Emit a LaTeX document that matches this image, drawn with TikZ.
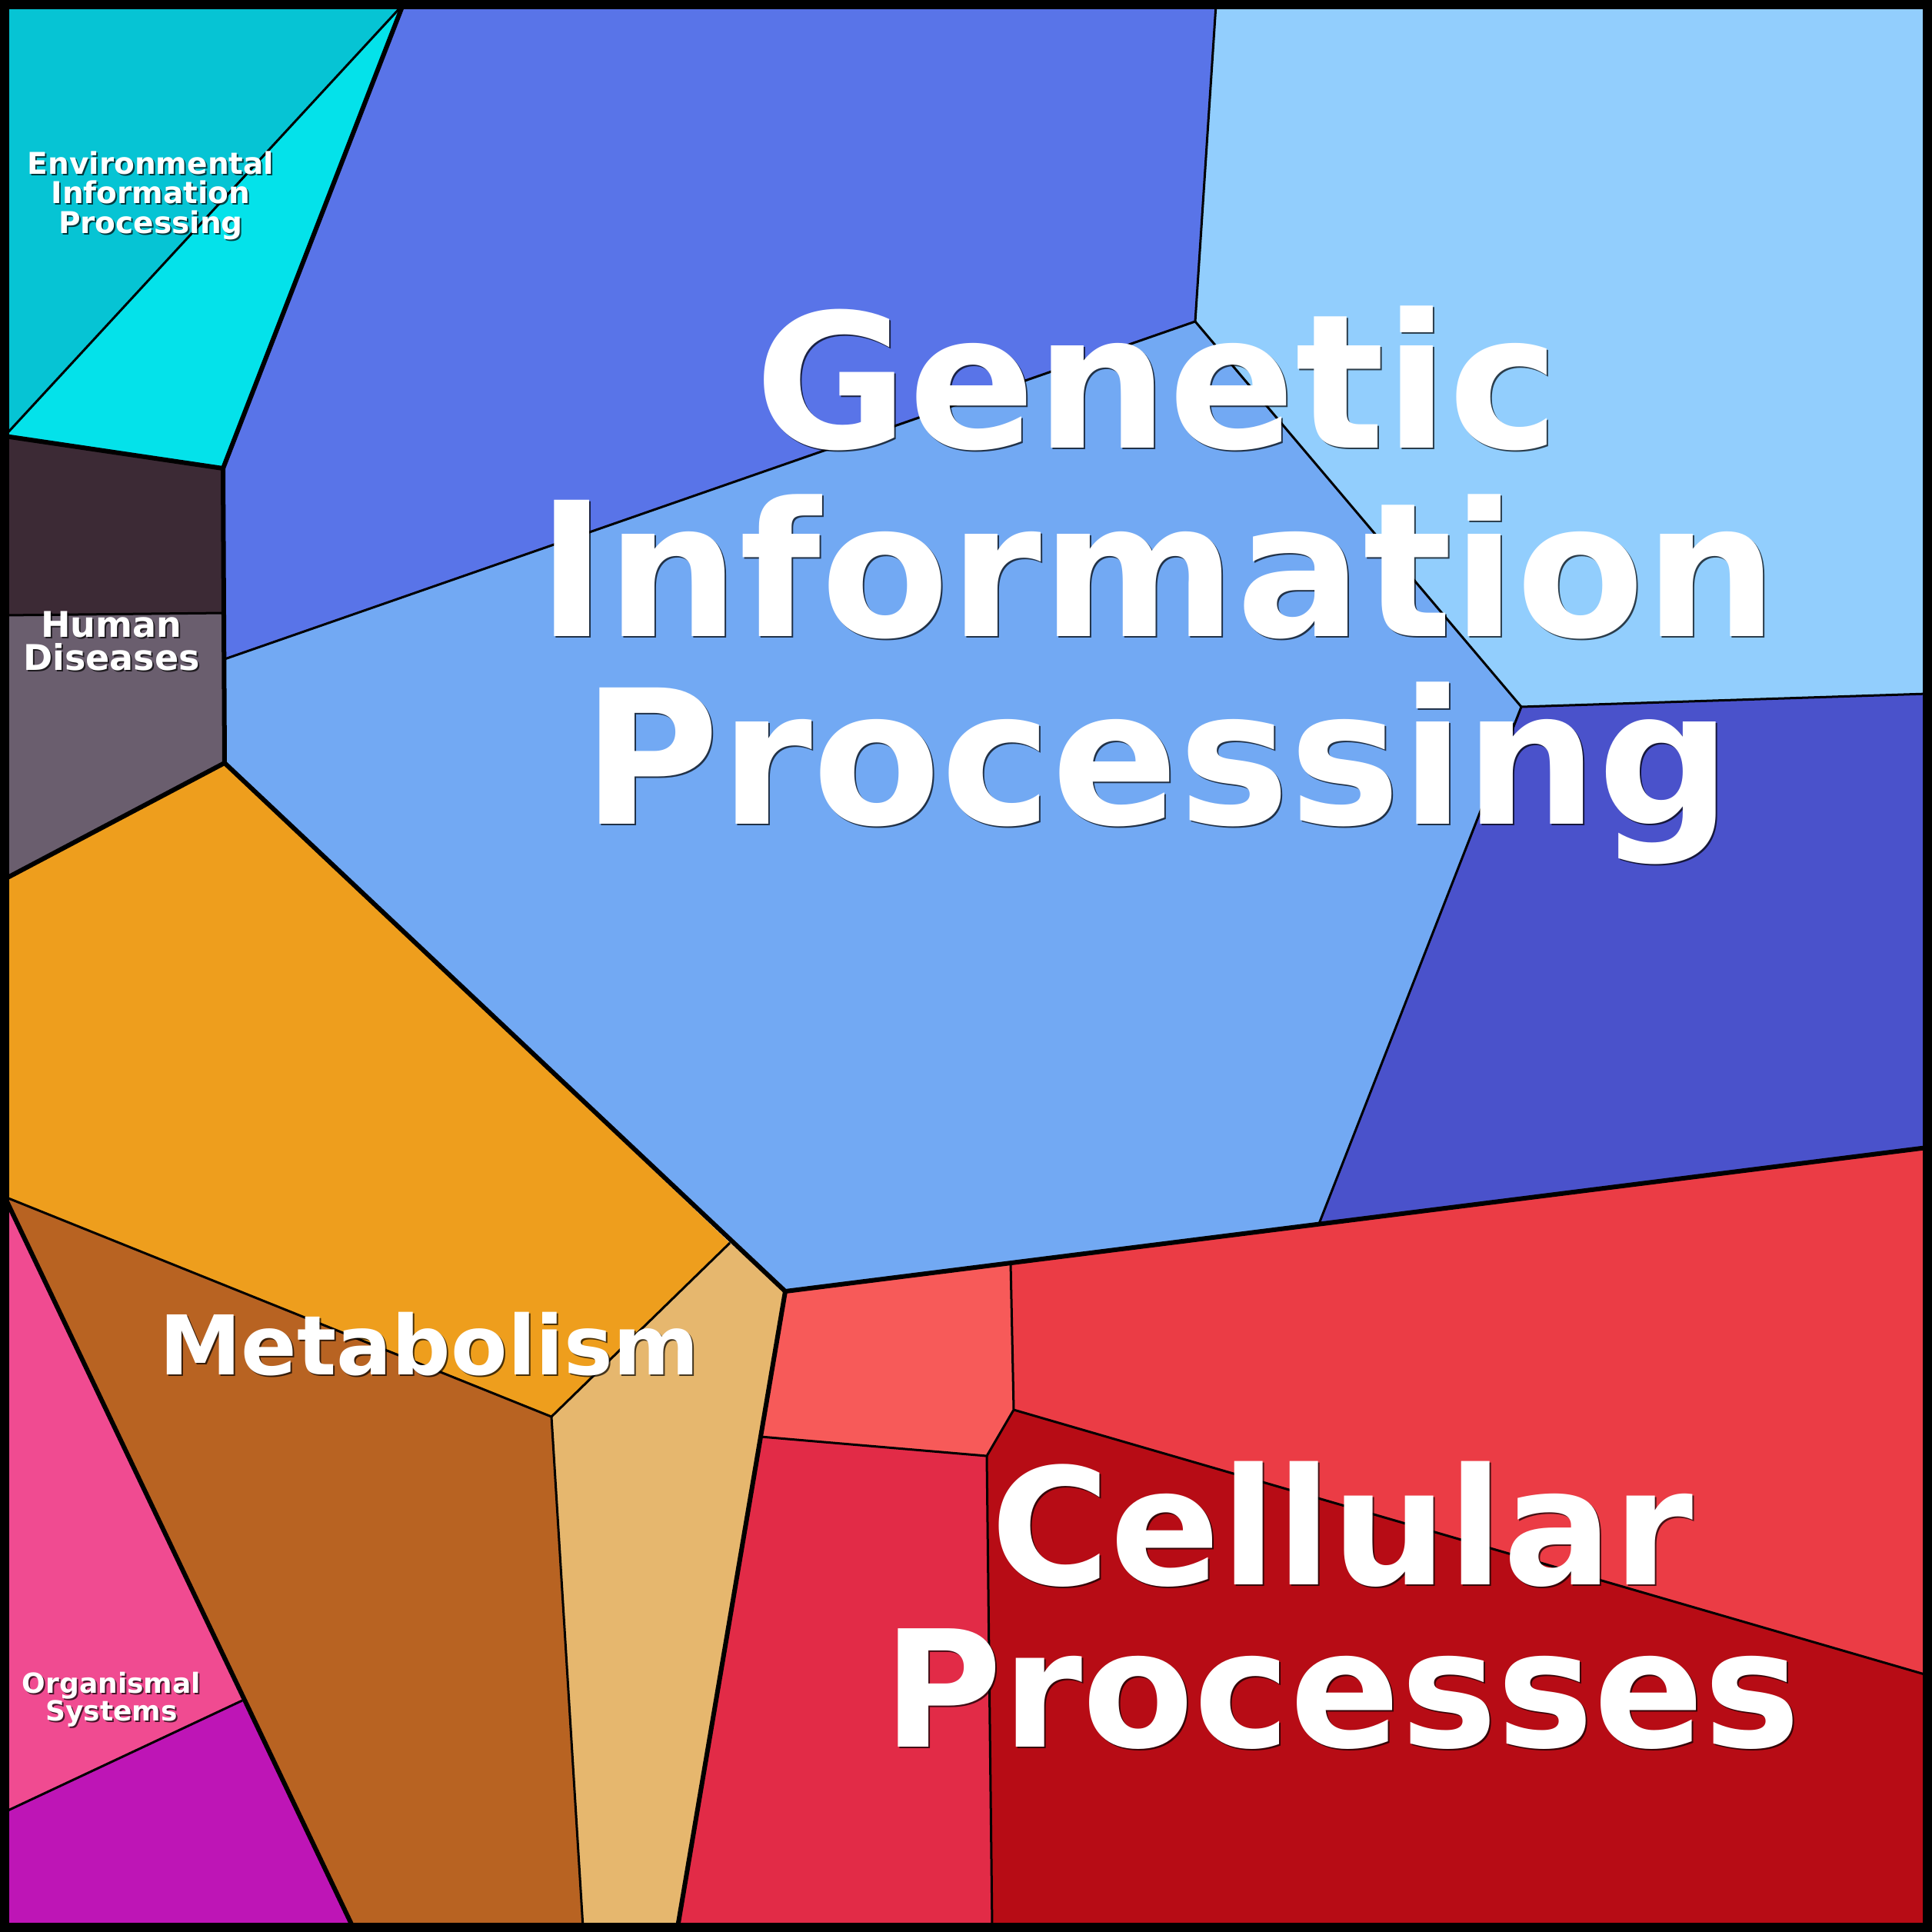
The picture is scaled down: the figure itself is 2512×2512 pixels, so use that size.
\documentclass[tikz,border=0pt]{standalone}
\usepackage{fontspec}
\setmainfont{DejaVu Sans}
\definecolor{envdark}{HTML}{06C4D4}
\definecolor{envcyan}{HTML}{04E2EA}
\definecolor{humdark}{HTML}{3C2A35}
\definecolor{humgray}{HTML}{6A5E6E}
\definecolor{genblue}{HTML}{5974E8}
\definecolor{gensky}{HTML}{92CEFD}
\definecolor{genlight}{HTML}{72A9F3}
\definecolor{gendeep}{HTML}{4A52CB}
\definecolor{metorange}{HTML}{EE9E1D}
\definecolor{metbrown}{HTML}{B86322}
\definecolor{mettan}{HTML}{E6B76E}
\definecolor{celsalmon}{HTML}{F75A59}
\definecolor{celred}{HTML}{EB3C45}
\definecolor{celcrimson}{HTML}{E22B47}
\definecolor{celdark}{HTML}{B70C15}
\definecolor{orgpink}{HTML}{F04B91}
\definecolor{orgmagenta}{HTML}{BE15B6}
\begin{document}
\begin{tikzpicture}[x=0.01cm,y=-0.01cm,
    thinedge/.style={line width=0.03cm, line join=round},
    thickedge/.style={line width=0.06cm, line join=round, line cap=round},
    catlabel/.style={text=white, align=center, inner sep=0pt},
    catshadow/.style={text=black, opacity=0.7, align=center, inner sep=0pt, xshift=0.02cm, yshift=-0.02cm}]
            \useasboundingbox (0,0) rectangle (2512,2512);
            \def\catname#1#2#3#4{%
              \node[catshadow,#3] (#1s) at (#2) {#4};
              \node[catlabel,#3] (#1) at (#2) {#4};}
            % cell corners
            \coordinate (A) at (6,567);
            \coordinate (B) at (524,6);
            \coordinate (C) at (290,609);
            \coordinate (D) at (6,800);
            \coordinate (E) at (291,797);
            \coordinate (F) at (292,992);
            \coordinate (G) at (6,1143);
            \coordinate (H) at (292,857);
            \coordinate (I) at (1554,418);
            \coordinate (J) at (1581,6);
            \coordinate (K) at (1978,919);
            \coordinate (L) at (2506,902);
            \coordinate (M) at (1715,1591);
            \coordinate (N) at (1021,1679);
            \coordinate (O) at (2506,1492);
            \coordinate (P) at (949,1616);
            \coordinate (Q) at (717,1842);
            \coordinate (R) at (6,1556);
            \coordinate (S) at (758,2506);
            \coordinate (T) at (459,2506);
            \coordinate (U) at (881,2506);
            \coordinate (V) at (315,2211);
            \coordinate (W) at (6,2356);
            \coordinate (X) at (1314,1642);
            \coordinate (Y) at (1318,1833);
            \coordinate (Z) at (1283,1893);
            \coordinate (Za) at (989,1868);
            \coordinate (Zb) at (2506,2178);
            \coordinate (Zc) at (1290,2506);
            % cells
            \fill[envdark] (A) -- (6,6) -- (B) -- cycle;
            \fill[envcyan] (A) -- (B) -- (C) -- cycle;
            \fill[humdark] (A) -- (C) -- (E) -- (D) -- cycle;
            \fill[humgray] (D) -- (E) -- (F) -- (G) -- cycle;
            \fill[genblue] (B) -- (J) -- (I) -- (H) -- (C) -- cycle;
            \fill[gensky] (J) -- (2506,6) -- (L) -- (K) -- (I) -- cycle;
            \fill[genlight] (H) -- (I) -- (K) -- (M) -- (N) -- (F) -- cycle;
            \fill[gendeep] (K) -- (L) -- (O) -- (M) -- cycle;
            \fill[metorange] (G) -- (F) -- (P) -- (Q) -- (R) -- cycle;
            \fill[metbrown] (R) -- (Q) -- (S) -- (T) -- cycle;
            \fill[mettan] (P) -- (N) -- (U) -- (S) -- (Q) -- cycle;
            \fill[celsalmon] (N) -- (X) -- (Y) -- (Z) -- (Za) -- cycle;
            \fill[celred] (X) -- (O) -- (Zb) -- (Y) -- cycle;
            \fill[celcrimson] (Za) -- (Z) -- (Zc) -- (U) -- cycle;
            \fill[celdark] (Z) -- (Y) -- (Zb) -- (2506,2506) -- (Zc) -- cycle;
            \fill[orgpink] (R) -- (V) -- (W) -- cycle;
            \fill[orgmagenta] (W) -- (V) -- (T) -- (6,2506) -- cycle;
            % sub-category borders
            \draw[thinedge] (A) -- (B);
            \draw[thinedge] (D) -- (E);
            \draw[thinedge] (H) -- (I) -- (J);
            \draw[thinedge] (I) -- (K) -- (L);
            \draw[thinedge] (K) -- (M);
            \draw[thinedge] (P) -- (Q) -- (R);
            \draw[thinedge] (Q) -- (S);
            \draw[thinedge] (X) -- (Y) -- (Z) -- (Za);
            \draw[thinedge] (Z) -- (Zc);
            \draw[thinedge] (Y) -- (Zb);
            \draw[thinedge] (V) -- (W);
            % category borders
            \draw[thickedge] (A) -- (C) -- (B);
            \draw[thickedge] (C) -- (F) -- (G);
            \draw[thickedge] (F) -- (N) -- (O);
            \draw[thickedge] (N) -- (U);
            \draw[thickedge] (R) -- (T);
            \draw[line width=0.12cm] (6,6) rectangle (2506,2506);
            % labels
            \catname{gip}{1505,761}{font=\bfseries\fontsize{2.43cm}{2.44cm}\selectfont}{Genetic\\Information\\Processing}
            \catname{cel}{1745,2087}{font=\bfseries\fontsize{2.11cm}{2.11cm}\selectfont}{Cellular\\Processes}
            \catname{met}{558,1787}{anchor=base,font=\bfseries\fontsize{1.07cm}{1.07cm}\selectfont}{Metabolism}
            \catname{eip}{196,254}{font=\bfseries\fontsize{0.39cm}{0.385cm}\selectfont}{Environmental\\Information\\Processing}
            \catname{hum}{145,834}{font=\bfseries\fontsize{0.46cm}{0.43cm}\selectfont}{Human\\Diseases}
            \catname{org}{145,2210}{font=\bfseries\fontsize{0.36cm}{0.36cm}\selectfont}{Organismal\\Systems}
        \end{tikzpicture}
\end{document}
